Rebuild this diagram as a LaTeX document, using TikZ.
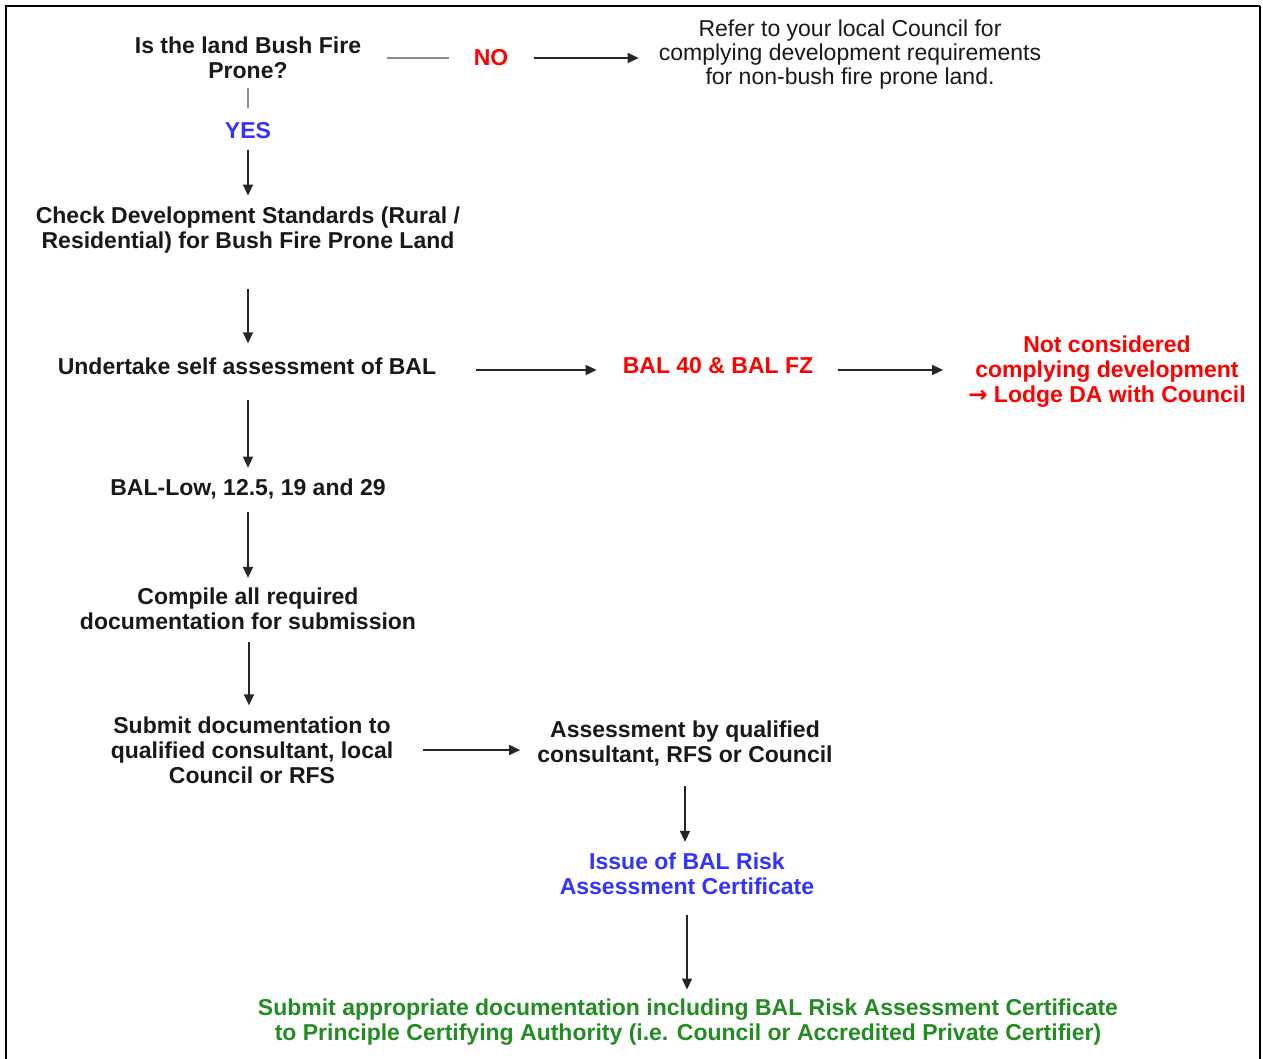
\documentclass[tikz,border=0pt]{standalone}
\usepackage{fontspec}
\setmainfont{Liberation Sans}
\newfontfamily\arrowfont{DejaVu Sans}
\usepackage{xcolor}
\usetikzlibrary{arrows.meta,calc}

\definecolor{norred}{RGB}{255,0,0}
\definecolor{yesblue}{RGB}{51,51,255}
\definecolor{pcagreen}{RGB}{34,139,34}
\definecolor{txtdark}{RGB}{25,25,25}

\begin{document}
\begin{tikzpicture}[x=1pt, y=-1pt,
        box/.style={inner sep=0pt, align=center, text=txtdark,
            font=\fontsize{23}{25}\selectfont\bfseries},
        arr/.style={-{Triangle[length=11pt, width=10pt]}, line width=1.5pt, draw=black!85},
        link/.style={line width=1.5pt, draw=black!45}]
        \useasboundingbox (0, 0) rectangle (1263, 1059);

        % Page Frame (open at the bottom)
        \draw[line width=2.5pt] (6, 1059) -- (6, 6) -- (1260, 6);
        \draw[line width=2pt] (1260, 6) -- (1260, 1059);

        % Question and the NO branch
        \node[box] (bushq) at (248, 58) {Is the land Bush Fire\\Prone?};
        \node[box, text=norred] (no) at (491, 58) {NO};
        \node[box, font=\fontsize{23}{24}\selectfont] (refer) at (850, 55)
            {Refer to your local Council for\\complying development requirements\\for non-bush fire prone land.};
        \node[box, text=yesblue] (yes) at (248, 131) {YES};

        % Main Column
        \node[box] (check) at (248, 230) {Check Development Standards (Rural /\\Residential) for Bush Fire Prone Land};
        \node[box] (self) at (247, 366) {Undertake self assessment of BAL};
        \node[box] (ballow) at (248, 489) {BAL-Low, 12.5, 19 and 29};
        \node[box] (compile) at (248, 609) {Compile all required\\documentation for submission};
        \node[box] (submit) at (252, 750) {Submit documentation to\\qualified consultant, local\\Council or RFS};

        % BAL 40 / FZ Branch
        \node[box, text=norred] (bal40) at (718, 366) {BAL 40 \& BAL FZ};
        \node[box, text=norred] (notcd) at (1107, 372) {Not considered\\complying development\\{\arrowfont\bfseries →} Lodge DA with Council};

        % Assessment Column
        \node[box] (assess) at (685, 743) {Assessment by qualified\\consultant, RFS or Council};
        \node[box, text=yesblue] (issue) at (687, 874) {Issue of BAL Risk\\Assessment Certificate};
        \node[box, text=pcagreen] (pca) at (688, 1022)
            {Submit appropriate documentation including BAL Risk Assessment Certificate\\to Principle Certifying Authority (i.e. Council or Accredited Private Certifier)};

        % Connectors
        \draw[link, shorten <=26pt, shorten >=25pt] (bushq.east) -- (bushq.east -| no.west);
        \draw[arr, shorten <=26pt, shorten >=20pt] (no.east) -- (no.east -| refer.west);
        \draw[link, shorten <=9pt, shorten >=15pt] (bushq.south) -- (yes.north);
        \draw[arr, shorten <=11pt, shorten >=11pt] (yes.south) -- (check.north);
        \draw[arr, shorten <=36pt, shorten >=14pt] (check.south) -- (check.south |- self.north);
        \draw[arr, shorten <=25pt, shorten >=11pt] (ballow.north |- self.south) -- (ballow.north);
        \draw[arr, shorten <=13pt, shorten >=10pt] (ballow.south) -- (compile.north);
        \draw[arr, shorten <=12pt, shorten >=11pt] ($(compile.south)+(1,0)$) -- ($(compile.south |- submit.north)+(1,0)$);
        \draw[arr, shorten <=40pt, shorten >=26pt] ($(self.east)+(0,4)$) -- ($(self.east -| bal40.west)+(0,4)$);
        \draw[arr, shorten <=25pt, shorten >=25pt] ($(bal40.east)+(0,4)$) -- ($(bal40.east -| notcd.west)+(0,4)$);
        \draw[arr, shorten <=30pt, shorten >=17pt] (submit.east) -- (submit.east -| assess.west);
        \draw[arr, shorten <=20pt, shorten >=11pt] (assess.south) -- (assess.south |- issue.north);
        \draw[arr, shorten <=20pt, shorten >=9pt] (issue.south) -- (issue.south |- pca.north);
    \end{tikzpicture}
\end{document}
